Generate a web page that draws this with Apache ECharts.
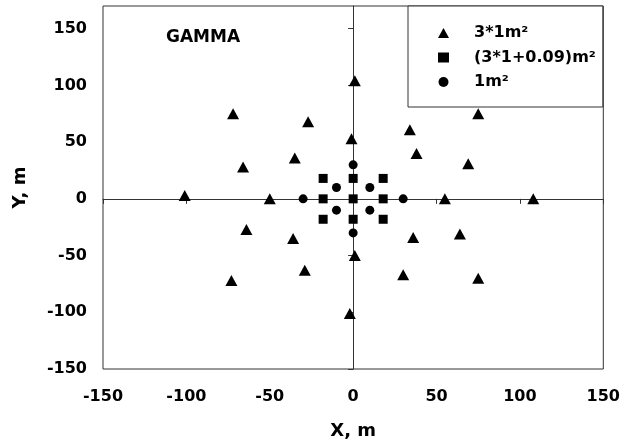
<!DOCTYPE html>
<html>
<head>
<meta charset="utf-8">
<script src="https://cdn.jsdelivr.net/npm/echarts@6/dist/echarts.min.js"></script>
<style>
  html, body { margin: 0; padding: 0; background: #fff; }
  #chart { width: 623px; height: 446px; }
</style>
</head>
<body>
<div id="chart"></div>
<script>
// ---- data ----
var seriesNames = ['3*1m²', '(3*1+0.09)m²', '1m²'];

var triangleX = [-101, -72, -66, -50, -35, -27, -1, 1, 34, 38, 69, 75, 55, 108, 64, 36, 75, 30, 1, -2, -29, -36, -64, -73];
var triangleY = [3, 75, 28, 0, 36, 68, 53, 104, 61, 40, 31, 75, 0, 0, -31, -34, -70, -67, -50, -101, -63, -35, -27, -72];

var squareX = [-18, 0, 18, -18, 0, 18, -18, 0, 18];
var squareY = [18, 18, 18, 0, 0, 0, -18, -18, -18];

var circleX = [0, -10, 10, -30, 30, -10, 10, 0];
var circleY = [30, 10, 10, 0, 0, -10, -10, -30];

var xTicks = [-150, -100, -50, 0, 50, 100, 150];
var yTicks = [-150, -100, -50, 0, 50, 100, 150];

function pairs(xs, ys) {
  return xs.map(function (x, i) { return [x, ys[i]]; });
}

var FONT = 'DejaVu Sans';
var chart = echarts.init(document.getElementById('chart'), null, { renderer: 'canvas' });

var option = {
  backgroundColor: '#ffffff',
  animation: false,
  title: {
    text: 'GAMMA',
    left: 166,
    top: 29,
    padding: 0,
    textStyle: { fontFamily: FONT, fontWeight: 'bold', fontSize: 17, color: '#000' }
  },
  grid: {
    left: 103, right: 16, top: 6, bottom: 77,
    show: true, borderColor: '#333', borderWidth: 1, backgroundColor: 'transparent'
  },
  legend: {
    orient: 'vertical',
    left: 408,
    top: 6,
    padding: [19, 7, 17, 30],
    itemGap: 8.5,
    itemWidth: 11,
    itemHeight: 10,
    borderColor: '#333',
    borderWidth: 1,
    backgroundColor: '#fff',
    data: [
      { name: seriesNames[0], icon: 'triangle', itemStyle: { color: '#000', opacity: 1 } },
      { name: seriesNames[1], icon: 'rect', itemStyle: { color: '#000', opacity: 1 } },
      { name: seriesNames[2], icon: 'circle', itemStyle: { color: '#000', opacity: 1 } }
    ],
    formatter: function (name) { return '{t|' + name + '}'; },
    textStyle: {
      fontFamily: FONT, fontWeight: 'bold', fontSize: 16, color: '#000',
      rich: { t: { fontFamily: FONT, fontWeight: 'bold', fontSize: 16, color: '#000', padding: [0, 0, 0, 20], lineHeight: 16 } }
    }
  },
  xAxis: {
    type: 'value',
    min: -150, max: 150, interval: 50,
    name: 'X, m',
    nameLocation: 'middle',
    nameGap: 53,
    nameTextStyle: { fontFamily: FONT, fontWeight: 'bold', fontSize: 18, color: '#000' },
    axisLine: { show: true, lineStyle: { color: '#333', width: 1 } },
    axisTick: { show: true, inside: false, length: 5, lineStyle: { color: '#333' }, customValues: xTicks },
    axisLabel: { margin: 20, fontFamily: FONT, fontWeight: 'bold', fontSize: 16, color: '#000', customValues: xTicks },
    splitLine: { show: false }
  },
  yAxis: {
    type: 'value',
    min: -150, max: 170, interval: 50,
    name: 'Y, m',
    nameLocation: 'middle',
    nameGap: 74,
    nameTextStyle: { fontFamily: FONT, fontWeight: 'bold', fontSize: 18, color: '#000' },
    axisLine: { show: true, lineStyle: { color: '#333', width: 1 } },
    axisTick: { show: true, inside: false, length: 5, lineStyle: { color: '#333' }, customValues: yTicks },
    axisLabel: { margin: 16, fontFamily: FONT, fontWeight: 'bold', fontSize: 16, color: '#000', customValues: yTicks },
    splitLine: { show: false }
  },
  series: [
    {
      name: seriesNames[0], type: 'scatter', symbol: 'triangle', symbolSize: [12, 11],
      itemStyle: { color: '#000', opacity: 1 }, data: pairs(triangleX, triangleY)
    },
    {
      name: seriesNames[1], type: 'scatter', symbol: 'rect', symbolSize: 9,
      itemStyle: { color: '#000', opacity: 1 }, data: pairs(squareX, squareY)
    },
    {
      name: seriesNames[2], type: 'scatter', symbol: 'circle', symbolSize: 9,
      itemStyle: { color: '#000', opacity: 1 }, data: pairs(circleX, circleY)
    }
  ]
};
chart.setOption(option);
</script>
</body>
</html>
